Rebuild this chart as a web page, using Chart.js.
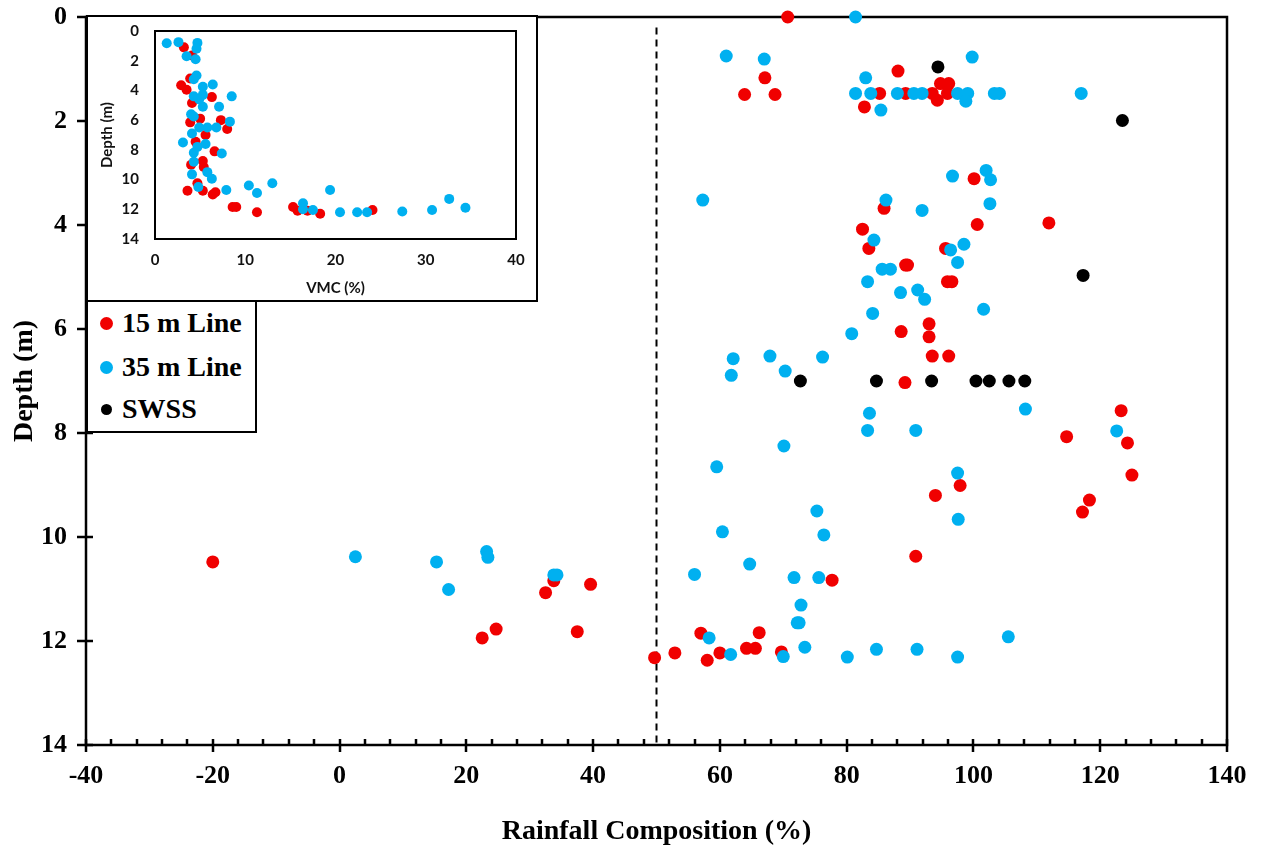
<!DOCTYPE html>
<html>
<head>
<meta charset="utf-8">
<script src="https://cdn.jsdelivr.net/npm/chart.js@4.4.0/dist/chart.umd.min.js"></script>
<style>
  body { margin: 0; background: #fff; }
  #wrap { position: relative; width: 1261px; height: 852px; }
  #main { position: absolute; left: 0; top: 0; }
  #inset { position: absolute; left: 86px; top: 15px; width: 452px; height: 287px;
           border: 2px solid #000; background: #fff; box-sizing: border-box; }
  #legend { position: absolute; left: 86px; top: 300px; width: 171px; height: 133px;
            border: 2px solid #000; background: #fff; box-sizing: border-box;
            font: bold 28px "Liberation Serif", serif; color: #000; }
  .row { position: absolute; left: 0; height: 30px; line-height: 30px; white-space: nowrap; }
  .dot { position: absolute; left: 12px; top: 9px; width: 13px; height: 13px; border-radius: 50%; }
  .lbl { position: absolute; left: 34px; top: 0; }
</style>
</head>
<body>
<div id="wrap">
  <canvas id="main" width="1261" height="852"></canvas>
  <div id="inset"><canvas id="vmc" width="448" height="283"></canvas></div>
  <div id="legend"></div>
</div>
<script>
// main chart: rainfall composition (%) vs depth (m)
const line15Rain = [70.7, 67.1, 63.9, 68.7, 88.1, 85.2, 82.8, 89.3, 93.5, 94.8, 96.1, 94.3, 95.9,
  100.1, 100.6, 111.9, 85.9, 82.5, 83.5, 95.6, 89.3, 89.6, 95.9, 96.6, 93.0, 93.0, 88.6, 93.5, 96.1,
  89.2, 123.3, 114.7, 124.3, 125.0, 97.9, 94.0, 118.3, 117.2, 90.9, 77.7, -20.0, 32.5, 33.8, 39.6,
  22.5, 24.7, 37.5, 57.0, 66.2, 49.7, 52.9, 58.0, 60.0, 64.2, 65.6, 69.7];
const line15Depth = [0.0, 1.17, 1.49, 1.49, 1.04, 1.47, 1.73, 1.47, 1.47, 1.28, 1.28, 1.60, 1.47,
  3.11, 3.99, 3.96, 3.68, 4.08, 4.45, 4.45, 4.77, 4.77, 5.09, 5.09, 5.90, 6.15, 6.05, 6.52, 6.52,
  7.03, 7.57, 8.07, 8.19, 8.81, 9.01, 9.20, 9.29, 9.52, 10.37, 10.83, 10.48, 11.07, 10.84, 10.91,
  11.94, 11.77, 11.82, 11.85, 11.84, 12.32, 12.23, 12.37, 12.23, 12.14, 12.14, 12.21];

const line35Rain = [81.4, 61.0, 67.0, 99.8, 83.0, 81.4, 83.8, 85.4, 88.0, 90.6, 91.9, 97.5, 99.1,
  98.8, 103.3, 104.1, 117.0, 57.3, 86.2, 91.9, 96.7, 102.0, 102.7, 102.6, 84.3, 96.4, 98.5, 97.5,
  85.6, 86.9, 83.3, 88.5, 91.2, 92.3, 101.6, 84.1, 80.8, 62.1, 67.9, 76.2, 61.8, 70.3, 108.2, 83.6,
  83.3, 90.9, 122.6, 70.1, 59.5, 97.5, 97.6, 75.3, 60.4, 76.4, 2.5, 15.3, 23.2, 23.4, 17.2, 33.8,
  34.3, 64.7, 56.0, 71.7, 75.6, 72.8, 72.2, 72.5, 58.3, 105.5, 61.7, 70.0, 73.4, 80.1, 84.7, 91.1, 97.5];
const line35Depth = [0.0, 0.75, 0.81, 0.77, 1.17, 1.47, 1.47, 1.79, 1.47, 1.47, 1.47, 1.47, 1.47,
  1.62, 1.47, 1.47, 1.47, 3.52, 3.52, 3.72, 3.06, 2.95, 3.13, 3.59, 4.29, 4.48, 4.37, 4.72,
  4.85, 4.85, 5.09, 5.30, 5.25, 5.43, 5.62, 5.70, 6.09, 6.57, 6.52, 6.54, 6.89, 6.81, 7.54, 7.62,
  7.95, 7.95, 7.96, 8.25, 8.65, 8.77, 9.66, 9.50, 9.90, 9.96, 10.38, 10.48, 10.28, 10.39, 11.01, 10.73,
  10.73, 10.52, 10.72, 10.78, 10.78, 11.31, 11.65, 11.65, 11.94, 11.92, 12.26, 12.30, 12.12, 12.31, 12.16, 12.16, 12.31];

const swssRain = [94.4, 123.5, 117.3, 72.7, 84.7, 93.4, 100.4, 102.5, 105.6, 108.1];
const swssDepth = [0.96, 1.99, 4.97, 7.0, 7.0, 7.0, 7.0, 7.0, 7.0, 7.0];

const refLineRain = [50, 50];
const refLineDepth = [0.2, 14];

// inset: VMC (%) vs depth (m)
const vmc15 = [3.2, 4.1, 2.9, 3.5, 3.9, 6.3, 4.1, 5.0, 3.9, 7.3, 8.0, 5.6, 4.5, 6.6, 4.0, 5.3,
  5.4, 3.6, 4.7, 5.3, 6.4, 6.7, 8.6, 9.0, 11.3, 15.3, 15.8, 16.9, 18.3, 24.1];
const vmc15Depth = [1.1, 1.65, 3.65, 3.95, 3.2, 4.45, 4.85, 5.9, 6.15, 6.0, 6.6, 7.0, 7.45, 8.1, 9.0, 8.75,
  9.15, 10.75, 10.25, 10.75, 11.0, 10.85, 11.85, 11.85, 12.2, 11.85, 12.1, 12.1, 12.3, 12.05];
const vmc35 = [1.3, 2.6, 4.7, 4.6, 3.5, 4.5, 4.6, 4.3, 5.3, 6.4, 8.5, 4.3, 5.3, 4.9, 5.3, 7.1, 4.0,
  4.3, 8.3, 4.9, 5.8, 6.8, 4.1, 3.1, 5.6, 4.7, 7.4, 4.3, 4.3, 5.8, 6.3, 4.1, 4.8, 7.9, 10.4, 11.3,
  13.0, 19.4, 32.6, 34.4, 16.4, 16.4, 17.5, 20.5, 22.4, 23.5, 27.4, 30.7];
const vmc35Depth = [0.82, 0.75, 0.8, 1.2, 1.7, 1.9, 3.0, 3.25, 3.75, 3.6, 4.4, 4.4, 4.3, 4.6, 5.1, 5.1, 5.6,
  5.75, 6.1, 6.5, 6.5, 6.5, 6.9, 7.5, 7.6, 7.8, 8.25, 8.2, 8.8, 9.5, 9.95, 9.65, 10.5, 10.7, 10.4, 10.9,
  10.25, 10.7, 11.3, 11.9, 11.6, 12.0, 12.05, 12.2, 12.2, 12.2, 12.15, 12.05];

const seriesNames = ["15 m Line", "35 m Line", "SWSS"];
const seriesColors = ["#f00000", "#00b0f0", "#000000"];

function pts(xs, ys) {
  return xs.map((x, i) => ({ x: x, y: ys[i] }));
}

const serif = "'Liberation Serif', 'Times New Roman', serif";

// frame around the plot area plus crossing / minor tick marks
const frameTicks = {
  id: "frameTicks",
  beforeDatasetsDraw(chart, args, opts) {
    const { ctx, chartArea: a, scales } = chart;
    ctx.save();
    ctx.strokeStyle = "#000";
    ctx.lineWidth = opts.width;
    ctx.strokeRect(a.left, a.top, a.right - a.left, a.bottom - a.top);
    if (opts.ticks) {
      ctx.beginPath();
      scales.y.ticks.forEach((t) => {
        const y = Math.round(scales.y.getPixelForValue(t.value));
        ctx.moveTo(a.left - 9, y);
        ctx.lineTo(a.left + 7, y);
      });
      const xs = scales.x;
      for (let v = xs.min; v <= xs.max; v += 4) {
        const x = Math.round(xs.getPixelForValue(v));
        if (v % 20 === 0) {
          ctx.moveTo(x, a.bottom - 6);
          ctx.lineTo(x, a.bottom + 7);
        } else {
          ctx.moveTo(x, a.bottom - 6);
          ctx.lineTo(x, a.bottom);
        }
      }
      ctx.stroke();
    }
    ctx.restore();
  },
};

function fixWidth(w) {
  return function (scale) {
    scale.width = w;
    scale.paddingTop = 0;
    scale.paddingBottom = 0;
  };
}

function fixHeight(h) {
  return function (scale) {
    scale.height = h;
    scale.paddingLeft = 0;
    scale.paddingRight = 0;
  };
}

new Chart(document.getElementById("main"), {
  type: "scatter",
  data: {
    datasets: [
      {
        label: seriesNames[2],
        data: pts(swssRain, swssDepth),
        backgroundColor: seriesColors[2],
        borderWidth: 0,
        pointRadius: 6.5,
        order: 0,
      },
      {
        label: seriesNames[1],
        data: pts(line35Rain, line35Depth),
        backgroundColor: seriesColors[1],
        borderWidth: 0,
        pointRadius: 6.5,
        order: 1,
      },
      {
        label: seriesNames[0],
        data: pts(line15Rain, line15Depth),
        backgroundColor: seriesColors[0],
        borderWidth: 0,
        pointRadius: 6.5,
        order: 2,
      },
      {
        type: "line",
        label: "50%",
        data: pts(refLineRain, refLineDepth),
        borderColor: "#000",
        borderWidth: 2,
        borderDash: [7, 5],
        pointRadius: 0,
        order: 3,
      },
    ],
  },
  options: {
    responsive: false,
    animation: false,
    clip: false,
    layout: { padding: { top: 17, right: 34, bottom: 0, left: 0 } },
    plugins: {
      legend: { display: false },
      tooltip: { enabled: false },
      frameTicks: { width: 2.5, ticks: true },
    },
    scales: {
      x: {
        type: "linear",
        min: -40,
        max: 140,
        grid: { display: false, drawTicks: false },
        border: { display: false },
        ticks: {
          stepSize: 20,
          padding: 16,
          color: "#000",
          font: { family: serif, size: 26, weight: "bold" },
        },
        title: {
          display: true,
          text: "Rainfall Composition (%)",
          color: "#000",
          font: { family: serif, size: 28, weight: "bold" },
          padding: { top: 0, bottom: 3 },
        },
        afterFit: fixHeight(107),
      },
      y: {
        type: "linear",
        min: 0,
        max: 14,
        reverse: true,
        grid: { display: false, drawTicks: false },
        border: { display: false },
        ticks: {
          stepSize: 2,
          padding: 19,
          color: "#000",
          font: { family: serif, size: 26, weight: "bold" },
        },
        title: {
          display: true,
          text: "Depth (m)",
          color: "#000",
          font: { family: serif, size: 28, weight: "bold" },
          padding: { top: 8, bottom: 0 },
        },
        afterFit: fixWidth(86),
      },
    },
  },
  plugins: [frameTicks],
});

const insetFont = "Lato, 'Open Sans', sans-serif";

new Chart(document.getElementById("vmc"), {
  type: "scatter",
  data: {
    datasets: [
      {
        label: seriesNames[1],
        data: pts(vmc35, vmc35Depth),
        backgroundColor: seriesColors[1],
        borderWidth: 0,
        pointRadius: 5,
        order: 0,
      },
      {
        label: seriesNames[0],
        data: pts(vmc15, vmc15Depth),
        backgroundColor: seriesColors[0],
        borderWidth: 0,
        pointRadius: 5,
        order: 1,
      },
    ],
  },
  options: {
    responsive: false,
    animation: false,
    clip: false,
    layout: { padding: { top: 14, right: 20, bottom: 0, left: 0 } },
    plugins: {
      legend: { display: false },
      tooltip: { enabled: false },
      frameTicks: { width: 2, ticks: false },
    },
    scales: {
      x: {
        type: "linear",
        min: 0,
        max: 40,
        grid: { display: false, drawTicks: false },
        border: { display: false },
        ticks: {
          stepSize: 10,
          padding: 12,
          color: "#111",
          font: { family: insetFont, size: 15, weight: "bold" },
        },
        title: {
          display: true,
          text: "VMC (%)",
          color: "#111",
          font: { family: insetFont, size: 15, weight: "bold" },
          padding: { top: 0, bottom: 3 },
        },
        afterFit: fixHeight(61),
      },
      y: {
        type: "linear",
        min: 0,
        max: 14,
        reverse: true,
        grid: { display: false, drawTicks: false },
        border: { display: false },
        ticks: {
          stepSize: 2,
          padding: 16,
          color: "#111",
          font: { family: insetFont, size: 15, weight: "bold" },
        },
        title: {
          display: true,
          text: "Depth (m)",
          color: "#111",
          font: { family: insetFont, size: 15, weight: "bold" },
          padding: { top: 10, bottom: 0 },
        },
        afterFit: fixWidth(67),
      },
    },
  },
  plugins: [frameTicks],
});

// legend box built from the series names/colours
const legend = document.getElementById("legend");
const rowTops = [6, 50, 92];
seriesNames.forEach((name, i) => {
  const row = document.createElement("div");
  row.className = "row";
  row.style.top = rowTops[i] + "px";
  const dot = document.createElement("span");
  dot.className = "dot";
  dot.style.background = seriesColors[i];
  if (i === 2) {
    dot.style.width = "11px";
    dot.style.height = "11px";
    dot.style.left = "13px";
    dot.style.top = "10px";
  }
  const lbl = document.createElement("span");
  lbl.className = "lbl";
  lbl.textContent = name;
  row.appendChild(dot);
  row.appendChild(lbl);
  legend.appendChild(row);
});
</script>
</body>
</html>
